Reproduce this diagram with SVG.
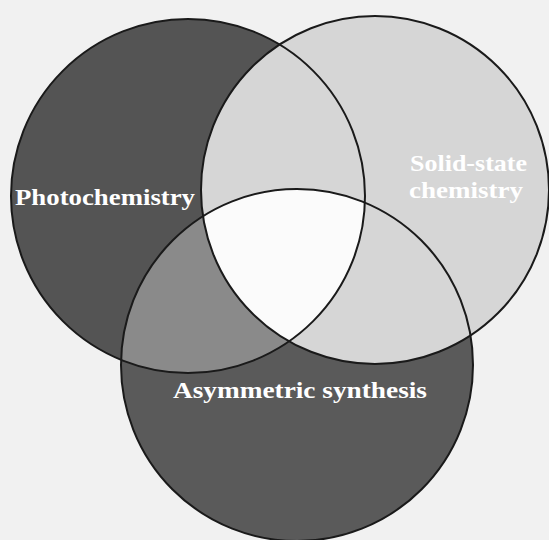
<svg xmlns="http://www.w3.org/2000/svg" width="549" height="540" viewBox="0 0 549 540">
<style>
.ring{fill:none;stroke:#1a1a1a;stroke-width:2}
.lbl{font-family:"Liberation Serif","Times New Roman",serif;font-weight:bold;font-size:24px;fill:#ffffff}
</style>
<defs>
<clipPath id="cL"><circle cx="188" cy="196" r="177"/></clipPath>
<clipPath id="cB"><circle cx="297" cy="365" r="176"/></clipPath>
</defs>
<rect width="549" height="540" fill="#f1f1f1"/>
<g id="photochemistry">
<circle cx="188" cy="196" r="177" fill="#545454"/>
</g>
<g id="asymmetric-synthesis">
<circle cx="297" cy="365" r="176" fill="#5a5a5a"/>
<circle cx="188" cy="196" r="177" fill="#8a8a8a" clip-path="url(#cB)"/>
</g>
<g id="solid-state-chemistry">
<circle cx="375" cy="190" r="174" fill="#d6d6d6"/>
<g clip-path="url(#cL)"><circle cx="375" cy="190" r="174" fill="#fbfbfb" clip-path="url(#cB)"/></g>
</g>
<g id="connectors">
<circle class="ring" cx="188" cy="196" r="177"/>
<circle class="ring" cx="375" cy="190" r="174"/>
<circle class="ring" cx="297" cy="365" r="176"/>
</g>
<g id="labels">
<text class="lbl" x="15" y="205" textLength="180" lengthAdjust="spacingAndGlyphs">Photochemistry</text>
<text class="lbl" x="173" y="398" textLength="254" lengthAdjust="spacingAndGlyphs">Asymmetric synthesis</text>
<text class="lbl" x="410" y="171" textLength="117" lengthAdjust="spacingAndGlyphs">Solid-state</text>
<text class="lbl" x="409" y="198" textLength="114" lengthAdjust="spacingAndGlyphs">chemistry</text>
</g>
</svg>
